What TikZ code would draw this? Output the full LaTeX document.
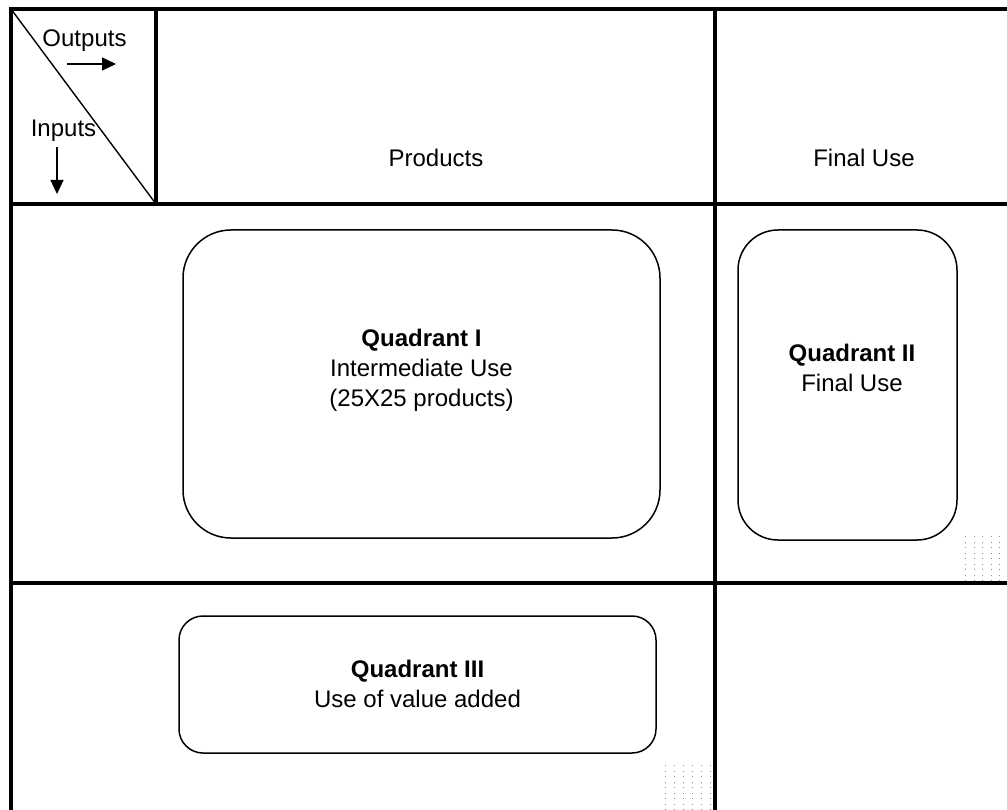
\documentclass[tikz,border=0pt]{standalone}
\usepackage{fontspec}
\setmainfont{Liberation Sans}
\usetikzlibrary{arrows.meta}

\begin{document}
\begin{tikzpicture}[x=1pt,y=-1pt,
    grid line/.style={line width=4pt},
    quadrant/.style={draw,line width=1.5pt,rounded corners=#1,inner sep=0pt},
    label text/.style={font=\fontsize{24}{30}\selectfont,inner sep=0pt,align=center},
    pointer/.style={line width=1.3pt,-{Triangle[length=14pt,width=13pt]}},
    speckle/.style={fill=black!45}]
  \useasboundingbox (0,0) rectangle (1007,810);
  \path
    coordinate (tl) at (11,9)
    coordinate (tr) at (1007,9)
    coordinate (bl) at (11,810)
    coordinate (corner) at (156,204);
  \draw[grid line] (tr) -- (tl) -- (bl);
  \draw[grid line] (156,9) -- (corner);
  \draw[grid line] (715,9) -- (715,810);
  \draw[grid line] (11,204) -- (1007,204);
  \draw[grid line] (11,583) -- (1007,583);
  \draw[line width=1.4pt] (tl) -- (corner);
  \node[label text,anchor=base] (outputs) at (84.5,47) {Outputs};
  \node[label text,anchor=base] (inputs) at (63.5,137) {Inputs};
  \coordinate (out start) at (67,64);
  \coordinate (out end) at (116,64);
  \coordinate (in start) at (57,147);
  \coordinate (in end) at (57,194);
  \draw[pointer] (out start) -- (out end);
  \draw[pointer] (in start) -- (in end);
  \node[label text,anchor=base] (products) at (436,167) {Products};
  \node[label text,anchor=base] (final) at (864,167) {Final Use};
  \node[quadrant=48pt,minimum width=477pt,minimum height=308pt] (q1) at (421.5,384) {};
  \node[quadrant=40pt,minimum width=219pt,minimum height=310pt] (q2) at (847.5,385) {};
  \node[quadrant=24pt,minimum width=477pt,minimum height=137pt] (q3) at (417.5,684.5) {};
  \node[label text] (q1 text) at (421.5,370) {\textbf{Quadrant I}\\Intermediate Use\\(25X25 products)};
  \node[label text] (q2 text) at (852,368) {\textbf{Quadrant II}\\Final Use};
  \node[label text] (q3 text) at (417.5,684) {\textbf{Quadrant III}\\Use of value added};
  \foreach \x in {0,...,4}
    \foreach \y in {0,...,8}
      \fill[speckle] ({965+8.5*\x},{536+5.5*\y}) rectangle +(1.3,1.3);
  \foreach \x in {0,...,5}
    \foreach \y in {0,...,8}
      \fill[speckle] ({665+9*\x},{765+5.5*\y}) rectangle +(1.3,1.3);
\end{tikzpicture}
\end{document}
